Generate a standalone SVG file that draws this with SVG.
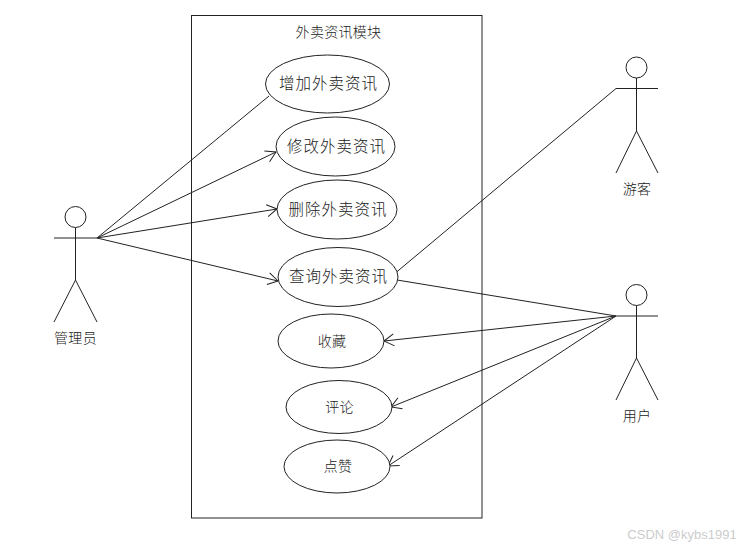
<svg xmlns="http://www.w3.org/2000/svg" width="752" height="548" viewBox="0 0 752 548">
<defs>
<style>
.s{fill:none;stroke:#222;stroke-width:1}
.e{fill:#fff;stroke:#222;stroke-width:1}
text{font-family:"Noto Sans CJK SC","Noto Sans",sans-serif;font-weight:300;fill:#222;text-anchor:middle;dominant-baseline:central}
.l{font-size:15.5px;letter-spacing:1px}
.m{font-size:14px;letter-spacing:.3px}
.w{font-family:"Liberation Sans",sans-serif;font-size:13px;fill:#ccc;letter-spacing:0}
</style>
<marker id="a" viewBox="0 0 11 14" refX="10.5" refY="7" markerWidth="11" markerHeight="14" markerUnits="userSpaceOnUse" orient="auto"><path d="M0.5 1L10.5 7L0.5 13" fill="none" stroke="#222"/></marker>
</defs>
<rect width="752" height="548" fill="#fff"/>
<g id="boundary"><rect class="s" x="191.5" y="15.5" width="290.5" height="502.5"/><text class="m" x="338.5" y="30.5">外卖资讯模块</text></g>
<g id="connectors">
<path class="s" d="M97 238L269 96"/>
<path class="s" marker-end="url(#a)" d="M97 238L276 152"/>
<path class="s" marker-end="url(#a)" d="M97 238L277 209"/>
<path class="s" marker-end="url(#a)" d="M97 238L278 281"/>
<path class="s" d="M616 88.5L396 272.5"/>
<path class="s" d="M397 280L616 316"/>
<path class="s" marker-end="url(#a)" d="M616 316L384 341"/>
<path class="s" marker-end="url(#a)" d="M616 316L391 407"/>
<path class="s" marker-end="url(#a)" d="M616 316L388 466"/>
</g>
<g id="uc1"><ellipse class="e" cx="327.5" cy="84" rx="62" ry="29"/><text class="l" x="328.5" y="82">增加外卖资讯</text></g>
<g id="uc2"><ellipse class="e" cx="335.5" cy="146.5" rx="59.5" ry="29.5"/><text class="l" x="336.5" y="145">修改外卖资讯</text></g>
<g id="uc3"><ellipse class="e" cx="337" cy="209.5" rx="60" ry="29.5"/><text class="l" x="338" y="208">删除外卖资讯</text></g>
<g id="uc4"><ellipse class="e" cx="338" cy="277" rx="60" ry="29.5"/><text class="l" x="338.5" y="275">查询外卖资讯</text></g>
<g id="uc5"><ellipse class="e" cx="331" cy="341" rx="53" ry="27"/><text class="m" x="332" y="339.5">收藏</text></g>
<g id="uc6"><ellipse class="e" cx="339" cy="407" rx="53" ry="26.5"/><text class="m" x="339.5" y="406">评论</text></g>
<g id="uc7"><ellipse class="e" cx="337" cy="466.5" rx="53" ry="26.5"/><text class="m" x="338" y="464.5">点赞</text></g>
<g id="admin"><circle class="s" cx="75.5" cy="217" r="10.5"/><path class="s" d="M54 238H97M75.5 227.5V280M75.5 280L54 322M75.5 280L97 322"/><text class="m" x="75.5" y="337">管理员</text></g>
<g id="guest"><circle class="s" cx="636.5" cy="67.5" r="10.5"/><path class="s" d="M616 88.5H658M636.5 78V131M636.5 131L616 173M636.5 131L658 173"/><text class="m" x="637" y="188">游客</text></g>
<g id="user"><circle class="s" cx="636.5" cy="295" r="10.5"/><path class="s" d="M616 316H658M636.5 305.5V358M636.5 358L616 400M636.5 358L658 400"/><text class="m" x="637" y="415">用户</text></g>
<text class="w" x="682" y="534">CSDN @kybs1991</text>
</svg>
